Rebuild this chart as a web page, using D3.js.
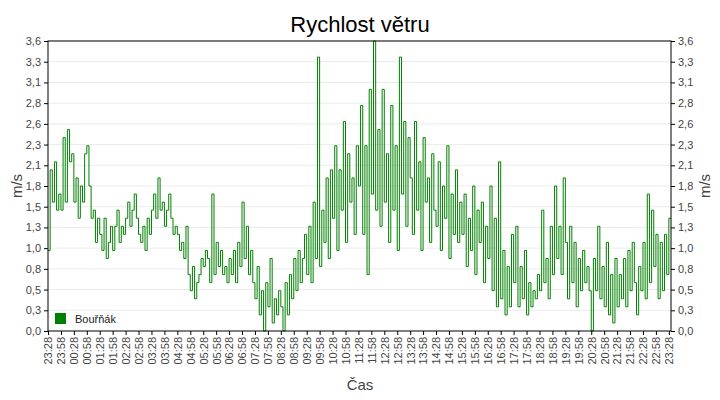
<!DOCTYPE html>
<html>
<head>
<meta charset="utf-8">
<script src="https://cdn.jsdelivr.net/npm/d3@7"></script>
<style>
  body { margin: 0; background: #fff; }
  text { font-family: "Liberation Sans", Arial, sans-serif; }
</style>
</head>
<body>
<svg id="chart" width="720" height="400"></svg>
<script>
// wind speed, 5 min samples from 23:28 (m/s), one row per hour
var speed = [
  1.0,2.0,1.6,2.1,1.5,1.7,1.5,2.4,1.6,2.5,2.1,2.2,
  1.6,1.9,1.4,1.8,1.6,2.2,2.3,1.8,1.4,1.5,1.1,1.4,
  1.2,1.0,1.4,0.9,1.1,1.3,1.0,1.3,1.5,1.1,1.3,1.2,
  1.4,1.6,1.3,1.5,1.7,1.4,1.2,1.1,1.3,1.0,1.4,1.2,
  1.5,1.7,1.4,1.9,1.5,1.6,1.3,1.5,1.7,1.4,1.2,1.3,
  1.2,1.0,1.1,0.9,1.3,0.7,0.5,0.8,0.4,0.6,0.7,0.9,
  0.8,1.0,0.9,0.6,1.7,0.7,1.1,0.8,1.0,0.7,0.8,0.6,
  0.9,0.7,1.0,0.6,1.1,0.8,1.6,0.9,1.3,0.7,1.0,0.6,
  0.4,0.8,0.2,0.5,0.0,0.6,0.3,0.9,0.1,0.4,0.2,0.5,
  0.3,0.0,0.6,0.2,0.7,0.4,0.9,0.5,1.0,0.6,0.9,1.2,
  0.7,1.3,0.6,1.6,0.9,3.4,0.8,1.5,1.1,1.9,0.9,2.0,
  1.4,2.3,1.0,2.0,1.5,2.6,1.1,2.2,1.6,1.9,1.2,2.3,
  1.8,2.8,1.2,2.3,0.7,3.0,1.7,3.6,1.5,2.5,1.3,3.0,
  1.6,2.2,1.1,2.8,1.5,2.3,1.0,3.4,1.7,2.6,1.3,2.4,
  1.9,1.2,2.6,1.5,2.1,1.0,2.4,1.6,1.9,1.1,2.2,1.5,
  1.3,2.1,1.0,1.8,1.4,2.3,0.9,1.7,1.2,2.0,1.1,1.6,
  1.2,1.7,0.8,1.4,1.0,1.8,0.7,1.5,1.1,1.6,0.6,1.3,
  0.9,1.8,0.5,1.4,0.3,2.1,0.4,1.0,0.2,0.8,0.3,1.2,
  0.6,1.3,0.3,0.8,0.4,1.0,0.2,0.6,0.3,0.5,0.4,0.7,
  0.5,1.5,0.6,0.9,0.4,1.3,0.7,1.8,0.9,1.3,0.7,1.9,
  1.1,0.4,1.3,0.6,1.1,0.3,0.9,0.5,1.0,0.6,0.8,0.5,
  0.0,0.9,0.5,1.3,0.4,0.8,0.3,1.1,0.2,0.7,0.1,0.9,
  0.3,0.7,0.4,0.9,0.3,1.0,0.5,1.1,0.6,0.2,0.8,0.5,
  1.1,0.4,1.7,0.6,1.5,0.8,1.2,0.4,1.1,0.5,1.2,0.7,
  1.4
];
var stepMin = 5;
var timeLabels = ["23:28","23:58","00:28","00:58","01:28","01:58","02:28","02:58","03:28","03:58",
  "04:28","04:58","05:28","05:58","06:28","06:58","07:28","07:58","08:28","08:58","09:28","09:58",
  "10:28","10:58","11:28","11:58","12:28","12:58","13:28","13:58","14:28","14:58","15:28","15:58",
  "16:28","16:58","17:28","17:58","18:28","18:58","19:28","19:58","20:28","20:58","21:28","21:58",
  "22:28","22:58","23:28"];
var seriesName = "Bouřňák";

var svg = d3.select("#chart");
var pLeft = 48, pRight = 671, pTop = 41, pBottom = 331;

var x = d3.scaleLinear().domain([0, 1445]).range([pLeft, pRight]);
var y = d3.scaleLinear().domain([0, 3.6]).range([pBottom, pTop]);
var yTicks = d3.range(15).map(function(i) { return i * 3.6 / 14; });
var fmt = function(v) { return v.toFixed(1).replace(".", ","); };

// grid
svg.append("g").selectAll("line").data(yTicks.slice(1)).enter().append("line")
  .attr("x1", pLeft).attr("x2", pRight)
  .attr("y1", function(d) { return y(d); }).attr("y2", function(d) { return y(d); })
  .attr("stroke", "#ebebeb");

// data line
var pts = speed.map(function(v, i) { return [i * stepMin, v]; });
pts.push([1445, speed[speed.length - 1]]);
svg.append("path").datum(pts)
  .attr("fill", "none").attr("stroke", "#008000").attr("stroke-width", 1)
  .attr("d", d3.line().x(function(d) { return x(d[0]); }).y(function(d) { return y(d[1]); })
    .curve(d3.curveStepAfter));

// frame
svg.append("rect").attr("x", pLeft).attr("y", pTop)
  .attr("width", pRight - pLeft).attr("height", pBottom - pTop)
  .attr("fill", "none").attr("stroke", "#000");

// axes
var yl = d3.axisLeft(y).tickValues(yTicks).tickFormat(fmt).tickSize(4);
var yr = d3.axisRight(y).tickValues(yTicks).tickFormat(fmt).tickSize(4);
var gl = svg.append("g").attr("transform", "translate(" + pLeft + ",0)").call(yl);
var gr = svg.append("g").attr("transform", "translate(" + pRight + ",0)").call(yr);
[gl, gr].forEach(function(g) {
  g.select(".domain").remove();
  g.selectAll("text").attr("fill", "#444").style("font-size", "11px");
});

var xa = d3.axisBottom(x).tickValues(d3.range(timeLabels.length).map(function(i) { return i * 30; }))
  .tickFormat(function(d, i) { return timeLabels[i]; }).tickSize(4);
var gx = svg.append("g").attr("transform", "translate(0," + pBottom + ")").call(xa);
gx.select(".domain").remove();
gx.selectAll("text").attr("fill", "#444").style("font-size", "11px")
  .attr("text-anchor", "end").attr("transform", "rotate(-90)")
  .attr("x", -6).attr("y", 0).attr("dy", "0.35em");

// title and axis labels
svg.append("text").attr("x", 360).attr("y", 32).attr("text-anchor", "middle")
  .style("font-size", "22px").text("Rychlost větru");
svg.append("text").attr("transform", "translate(22,186) rotate(-90)").attr("text-anchor", "middle")
  .attr("fill", "#444").style("font-size", "15px").text("m/s");
svg.append("text").attr("transform", "translate(710,186) rotate(-90)").attr("text-anchor", "middle")
  .attr("fill", "#444").style("font-size", "15px").text("m/s");
svg.append("text").attr("x", 360).attr("y", 390).attr("text-anchor", "middle")
  .attr("fill", "#444").style("font-size", "15px").text("Čas");

// legend
svg.append("rect").attr("x", 55).attr("y", 313).attr("width", 11).attr("height", 11).attr("fill", "#008000");
svg.append("text").attr("x", 75).attr("y", 323).style("font-size", "11px").attr("fill", "#222").text(seriesName);
</script>
</body>
</html>
